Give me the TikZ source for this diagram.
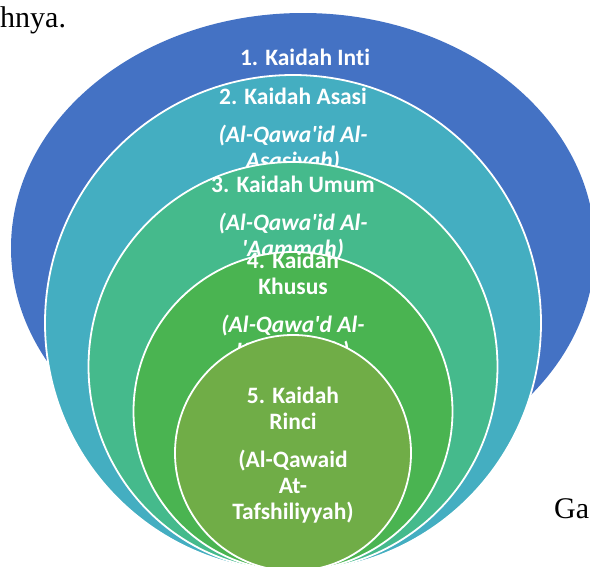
\documentclass[tikz,border=0pt]{standalone}
\usepackage{fontspec}
\setmainfont{Liberation Serif}
\newfontfamily\calibri[Ligatures=NoCommon]{Carlito}
\usepackage{tikz}
\usetikzlibrary{shapes.geometric}
\definecolor{cblue}{HTML}{4472C4}
\definecolor{cteal}{HTML}{44AEC1}
\definecolor{cmint}{HTML}{45BA8C}
\definecolor{cgreen}{HTML}{4AB451}
\definecolor{colive}{HTML}{70AD47}

\begin{document}
\begin{tikzpicture}[
    x=1pt, y=-1pt,
    ring/.style={circle, draw=white, line width=1.8pt, inner sep=0pt},
    lbl/.style={anchor=north, inner sep=0pt, align=center, text=white,
        font=\calibri\bfseries\fontsize{23.5}{26}\selectfont},
    pagetxt/.style={anchor=base west, inner sep=0pt,
        font=\fontsize{30}{32}\selectfont},
]

% =====================================================================
% Page frame: the figure is a cut-out of a page, so everything that
% runs past the edges (outer ellipse, bottom of the rings) is clipped.
% =====================================================================
\useasboundingbox (0,0) rectangle (590,566);
\clip (0,0) rectangle (590,566);

% --- Page text around the figure ------------------------------------
\node[pagetxt] (prev) at (0,27)   {hnya.};
\node[pagetxt] (next) at (554,518) {Ga};

% --- 1: outer ellipse ----------------------------------------------
\node[ellipse, fill=cblue, minimum width=584pt, minimum height=470pt,
      inner sep=0pt] (inti) at (303,248) {};
\node[lbl] (tinti) at (305,48.5) {1. Kaidah Inti};

% --- 2..5: rings, all touching at the bottom (y = 571) --------------
\node[ring, fill=cteal, minimum size=496pt] (asasi) at (293,323) {};
\node[lbl] (tasasi) at (293,87.5)
    {2. Kaidah Asasi\\[12pt]
     \itshape (Al-Qawa\textquotesingle id Al-\\\itshape Asasiyah)};

\node[ring, fill=cmint, minimum size=409pt] (umum) at (293,366.5) {};
\node[lbl] (tumum) at (293,175.5)
    {3. Kaidah Umum\\[12pt]
     \itshape (Al-Qawa\textquotesingle id Al-\\\itshape \textquotesingle Aammah)};

\node[ring, fill=cgreen, minimum size=319pt] (khusus) at (293,411.5) {};
\node[lbl] (tkhusus) at (293,251.5)
    {4. Kaidah\\Khusus\\[12pt]
     \itshape (Al-Qawa\textquotesingle d Al-\\\itshape Khashshah)};

\node[ring, fill=colive, minimum size=236pt] (rinci) at (293,453) {};
\node[lbl] (trinci) at (293,386.5)
    {5. Kaidah\\Rinci\\[12pt]
     (Al-Qawaid\\At-\\Tafshiliyyah)};

\end{tikzpicture}
\end{document}
